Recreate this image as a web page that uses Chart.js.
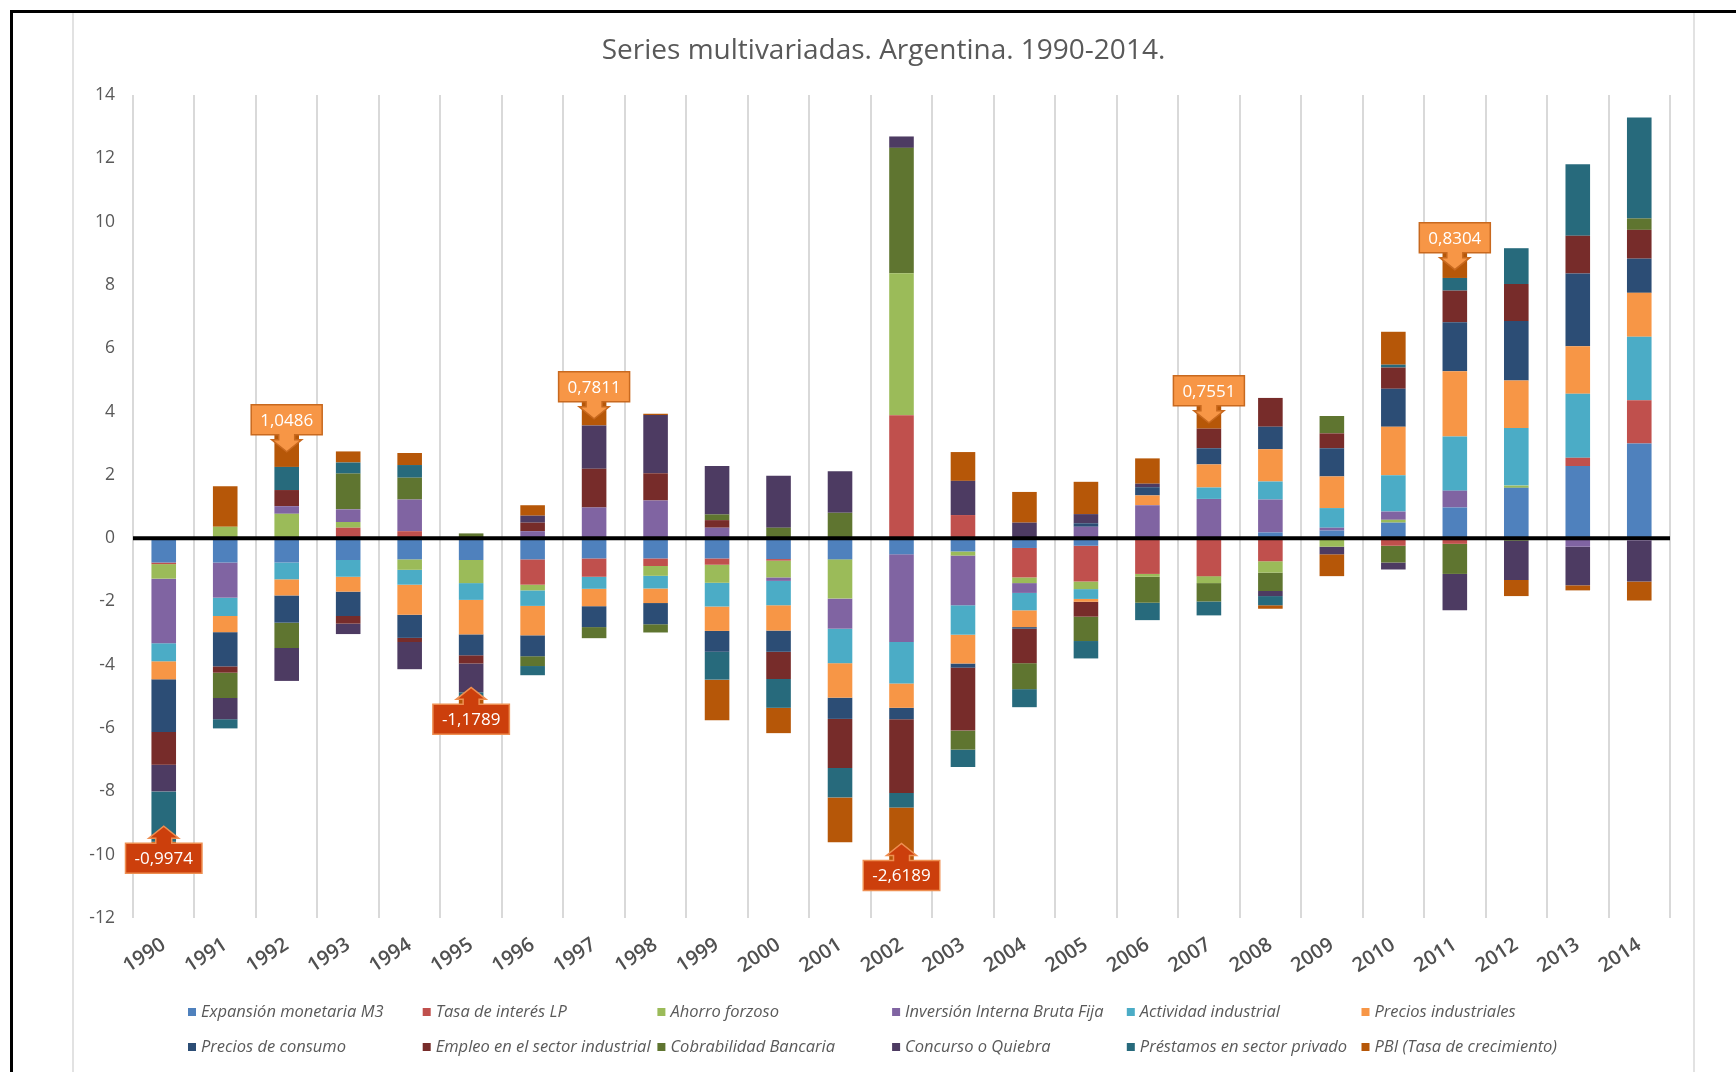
<!DOCTYPE html>
<html>
<head>
<meta charset="utf-8">
<script src="https://cdn.jsdelivr.net/npm/chart.js@4.4.1/dist/chart.umd.min.js"></script>
<style>
html,body{margin:0;padding:0;background:#fff;}
#wrap{width:1736px;height:1072px;position:relative;}
</style>
</head>
<body>
<div id="wrap"><canvas id="c" width="1736" height="1072"></canvas></div>
<script>
const years = ['1990','1991','1992','1993','1994','1995','1996','1997','1998','1999','2000','2001','2002','2003','2004','2005','2006','2007','2008','2009','2010','2011','2012','2013','2014'];

const seriesNames = ['Expansión monetaria M3','Tasa de interés LP','Ahorro forzoso','Inversión Interna Bruta Fija','Actividad industrial','Precios industriales','Precios de consumo','Empleo en el sector industrial','Cobrabilidad Bancaria','Concurso o Quiebra','Préstamos en sector privado','PBI (Tasa de crecimiento)'];

const expansionM3   = [-0.77,-0.77,-0.77,-0.69,-0.67,-0.69,-0.67,-0.64,-0.64,-0.64,-0.66,-0.67,-0.51,-0.42,-0.31,-0.24,0,0,0.18,0.24,0.49,0.97,1.59,2.28,2.99];
const tasaInteres   = [-0.05,0,0,0.33,0.22,0,-0.80,-0.58,-0.24,-0.20,-0.05,0,3.88,0.73,-0.93,-1.13,-1.13,-1.20,-0.73,0,-0.24,-0.18,0,0.26,1.37];
const ahorroForzoso = [-0.46,0.36,0.77,0.18,-0.33,-0.73,-0.18,0,-0.31,-0.57,-0.53,-1.24,4.49,-0.13,-0.18,-0.24,-0.09,-0.22,-0.36,-0.27,0.09,0,0.07,0,0];
const inversion     = [-2.04,-1.11,0.24,0.40,1.00,0,0.22,0.97,1.19,0.33,-0.11,-0.95,-2.77,-1.57,-0.31,0.36,1.04,1.24,1.04,0.09,0.26,0.53,0,-0.27,-0.08];
const actividadInd  = [-0.57,-0.58,-0.53,-0.53,-0.47,-0.53,-0.49,-0.38,-0.40,-0.75,-0.77,-1.09,-1.31,-0.93,-0.55,-0.31,0,0.36,0.57,0.62,1.15,1.71,1.82,2.02,2.00];
const preciosInd    = [-0.57,-0.51,-0.51,-0.47,-0.95,-1.09,-0.93,-0.55,-0.46,-0.77,-0.80,-1.09,-0.77,-0.91,-0.53,-0.09,0.31,0.73,1.02,1.00,1.53,2.06,1.50,1.50,1.39];
const preciosCons   = [-1.66,-1.08,-0.86,-0.77,-0.73,-0.66,-0.66,-0.66,-0.67,-0.66,-0.67,-0.67,-0.36,-0.13,-0.05,0.11,0.26,0.51,0.71,0.89,1.20,1.55,1.88,2.30,1.08];
const empleoInd     = [-1.04,-0.20,0.51,-0.24,-0.13,-0.26,0.27,1.22,0.86,0.24,-0.86,-1.55,-2.33,-1.99,-1.09,-0.47,0,0.62,0.91,0.47,0.67,1.00,1.17,1.19,0.91];
const cobrabilidad  = [0,-0.80,-0.80,1.13,0.69,0.15,-0.31,-0.35,-0.26,0.18,0.33,0.80,3.96,-0.60,-0.82,-0.77,-0.82,-0.58,-0.58,0.55,-0.53,-0.95,-0.08,0,0.36];
const concurso      = [-0.84,-0.67,-1.04,-0.33,-0.86,-0.91,0.22,1.37,1.84,1.53,1.64,1.31,0.36,1.08,0.49,0.29,0.11,0,-0.16,-0.24,-0.22,-1.15,-1.24,-1.22,-1.29];
const prestamos     = [-1.59,-0.29,0.73,0.35,0.40,-0.15,-0.29,0,0,-0.88,-0.91,-0.93,-0.46,-0.55,-0.57,-0.55,-0.55,-0.44,-0.29,0,0.09,0.40,1.13,2.26,3.19];
const pbi           = [-0.9974,1.28,1.0486,0.35,0.38,-1.1789,0.33,0.7811,0.04,-1.28,-0.80,-1.42,-2.6189,0.91,0.97,1.02,0.80,0.7551,-0.11,-0.69,1.04,0.8304,-0.51,-0.16,-0.60];

const calloutYears = ['1990','1992','1995','1997','2002','2007','2011'];

const yTickMin = -12, yTickMax = 14, yTickStep = 2;

const seriesData = [expansionM3,tasaInteres,ahorroForzoso,inversion,actividadInd,preciosInd,preciosCons,empleoInd,cobrabilidad,concurso,prestamos,pbi];
const colors = ['#4F81BD','#C0504D','#9BBB59','#8064A2','#4BACC6','#F79646','#2C4D75','#772C2A','#5F7530','#4D3B62','#276A7C','#B65708'];

const FONT = '"Open Sans", "Noto Sans", sans-serif';

const framePlugin = {
  id: 'frame',
  beforeDraw(chart) {
    const ctx = chart.ctx;
    ctx.save();
    ctx.fillStyle = '#ffffff';
    ctx.fillRect(0, 0, chart.width, chart.height);
    ctx.strokeStyle = '#d9d9d9';
    ctx.lineWidth = 1.5;
    ctx.beginPath();
    ctx.moveTo(73, 13); ctx.lineTo(73, chart.height);
    ctx.moveTo(1694, 13); ctx.lineTo(1694, chart.height);
    ctx.stroke();
    ctx.fillStyle = '#000000';
    ctx.fillRect(10, 10, chart.width - 10, 3);
    ctx.fillRect(10, 10, 3, chart.height - 10);
    ctx.restore();
  }
};

function drawCallout(ctx, x, yEnd, text, positive) {
  ctx.save();
  ctx.font = '17px ' + FONT;
  const tw = ctx.measureText(text).width;
  const w = tw + 18, h = 30;
  const sw = 8, hw = 15, sl = 5, hl = 12;
  const fill = positive ? '#F79646' : '#CC3F0C';
  const stroke = positive ? '#C8691F' : '#EE8F52';
  let boxTop, boxBottom;
  ctx.beginPath();
  if (positive) {
    boxBottom = yEnd + 1; boxTop = boxBottom - h;
    ctx.moveTo(x - w/2, boxTop);
    ctx.lineTo(x + w/2, boxTop);
    ctx.lineTo(x + w/2, boxBottom);
    ctx.lineTo(x + sw, boxBottom);
    ctx.lineTo(x + sw, boxBottom + sl);
    ctx.lineTo(x + hw, boxBottom + sl);
    ctx.lineTo(x, boxBottom + sl + hl);
    ctx.lineTo(x - hw, boxBottom + sl);
    ctx.lineTo(x - sw, boxBottom + sl);
    ctx.lineTo(x - sw, boxBottom);
    ctx.lineTo(x - w/2, boxBottom);
    ctx.closePath();
  } else {
    boxBottom = yEnd; boxTop = boxBottom - h;
    ctx.moveTo(x - w/2, boxBottom);
    ctx.lineTo(x + w/2, boxBottom);
    ctx.lineTo(x + w/2, boxTop);
    ctx.lineTo(x + sw, boxTop);
    ctx.lineTo(x + sw, boxTop - sl);
    ctx.lineTo(x + hw, boxTop - sl);
    ctx.lineTo(x, boxTop - sl - hl);
    ctx.lineTo(x - hw, boxTop - sl);
    ctx.lineTo(x - sw, boxTop - sl);
    ctx.lineTo(x - sw, boxTop);
    ctx.lineTo(x - w/2, boxTop);
    ctx.closePath();
  }
  ctx.fillStyle = fill;
  ctx.fill();
  ctx.lineWidth = 1.5;
  ctx.strokeStyle = stroke;
  ctx.stroke();
  ctx.fillStyle = '#ffffff';
  ctx.textAlign = 'center';
  ctx.textBaseline = 'middle';
  ctx.fillText(text, x, (boxTop + boxBottom) / 2 + 1);
  ctx.restore();
}

const overlayPlugin = {
  id: 'overlay',
  afterDatasetsDraw(chart) {
    const ctx = chart.ctx;
    const ca = chart.chartArea;
    const y0 = chart.scales.y.getPixelForValue(0);
    ctx.save();
    ctx.strokeStyle = '#000000';
    ctx.lineWidth = 4;
    ctx.beginPath();
    ctx.moveTo(ca.left, y0);
    ctx.lineTo(ca.right, y0);
    ctx.stroke();
    ctx.restore();

    const pbiIndex = seriesData.length - 1;
    const meta = chart.getDatasetMeta(pbiIndex);
    calloutYears.forEach(yr => {
      const i = years.indexOf(yr);
      const el = meta.data[i];
      const v = pbi[i];
      const txt = v.toFixed(4).replace('.', ',');
      drawCallout(ctx, el.x, el.y, txt, v >= 0);
    });
  },
  afterDraw(chart) {
    const ctx = chart.ctx;
    ctx.save();
    ctx.font = 'italic 16.5px ' + FONT;
    ctx.textBaseline = 'middle';
    ctx.textAlign = 'left';
    const startX = 188, stepX = 234.7;
    const rowsY = [1012, 1047];
    chart.data.datasets.forEach((ds, i) => {
      const col = i % 6, row = Math.floor(i / 6);
      const x = startX + col * stepX, y = rowsY[row];
      ctx.fillStyle = ds.backgroundColor;
      ctx.fillRect(x, y - 4, 8, 8);
      ctx.fillStyle = '#595959';
      ctx.fillText(ds.label, x + 13, y);
    });
    ctx.restore();
  }
};

const datasets = seriesNames.map((name, i) => ({
  label: name,
  data: seriesData[i],
  backgroundColor: colors[i],
  borderWidth: 0,
  barPercentage: 0.4,
  categoryPercentage: 1.0,
  stack: 's'
}));

new Chart(document.getElementById('c'), {
  type: 'bar',
  data: { labels: years, datasets },
  plugins: [framePlugin, overlayPlugin],
  options: {
    responsive: false,
    animation: false,
    layout: { padding: { left: 73, right: 42, top: 22, bottom: 0 } },
    plugins: {
      legend: { display: false },
      tooltip: { enabled: false },
      title: {
        display: true,
        text: 'Series multivariadas. Argentina. 1990-2014.',
        color: '#595959',
        font: { family: FONT, size: 28, weight: 'normal' },
        padding: { top: 12, bottom: 27.4 }
      }
    },
    scales: {
      x: {
        stacked: true,
        grid: { color: '#d9d9d9', lineWidth: 2, offset: true, drawTicks: false },
        border: { display: false },
        ticks: {
          color: '#505050',
          font: { family: FONT, size: 20, weight: '600' },
          minRotation: 33, maxRotation: 33, padding: 15, autoSkip: false
        },
        afterFit(s) { s.height = 154; }
      },
      y: {
        stacked: true,
        min: yTickMin, max: yTickMax,
        grid: { display: false, drawTicks: false },
        border: { display: false },
        ticks: { stepSize: yTickStep, color: '#595959', font: { family: FONT, size: 17.5 }, padding: 18 },
        afterFit(s) { s.width = 60; }
      },
      yRight: {
        position: 'right',
        display: true,
        grid: { display: false, drawTicks: false },
        border: { display: false },
        ticks: { display: false },
        afterFit(s) { s.width = 24; }
      }
    }
  }
});
</script>
</body>
</html>
